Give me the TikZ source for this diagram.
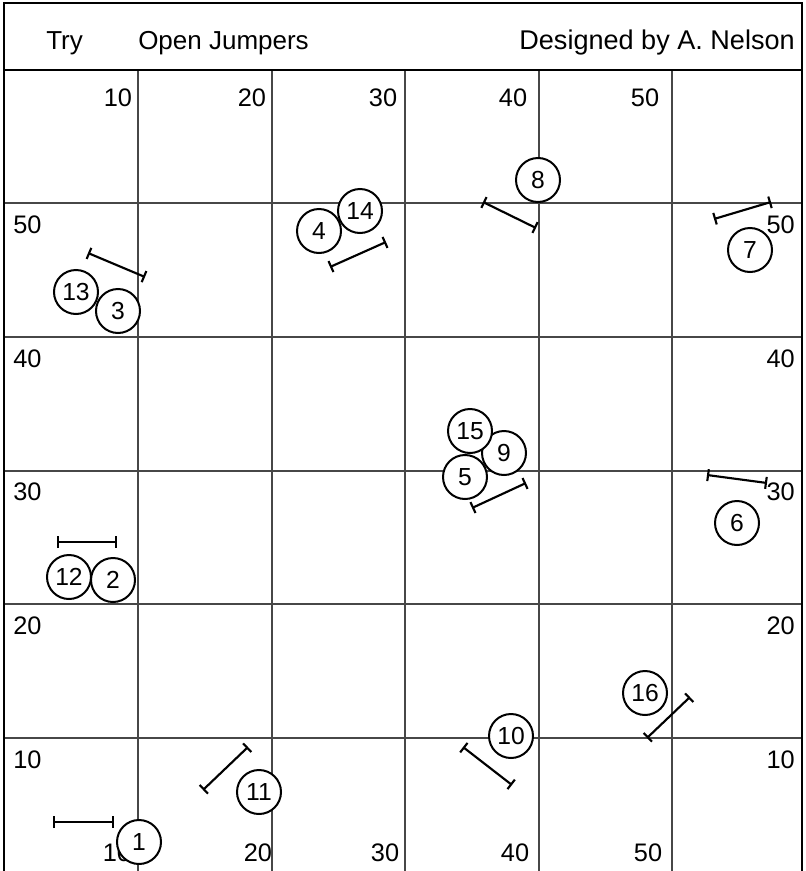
\documentclass[tikz,border=0pt]{standalone}
\usepackage{fontspec}
\setmainfont{Liberation Sans}
\usetikzlibrary{arrows.meta}
\begin{document}
\begin{tikzpicture}[x=0.75pt,y=-0.75pt,
  gridline/.style={draw=black!72, line width=1.1pt},
  frameline/.style={draw=black, line width=2.2pt},
  lab/.style={font=\fontsize{19}{22}\selectfont, inner sep=0pt},
  head/.style={font=\fontsize{19.5}{23}\selectfont, inner sep=0pt, anchor=base},
  player/.style={circle, draw=black, fill=white, line width=1.5pt, minimum size=33pt, inner sep=0pt, font=\fontsize{18.5}{20}\selectfont},
  jumper/.style={line width=1.6pt, {Bar[width=9pt,line width=1.6pt]}-{Bar[width=9pt,line width=1.6pt]}}
]
\useasboundingbox (0,0) rectangle (806,871);
% grid
\foreach \gx in {138,272,405,539,672} \draw[gridline] (\gx,70) -- (\gx,871);
\foreach \gy in {203,337,471,604,738} \draw[gridline] (4,\gy) -- (802,\gy);
% frame
\draw[frameline] (4,871) -- (4,3) -- (802,3) -- (802,871);
\draw[frameline] (4,70) -- (802,70);
% header
\node[head, anchor=base west] (try) at (46,49) {Try};
\node[head, anchor=base west] (title) at (138,49) {Open Jumpers};
\node[head, anchor=base east, font=\fontsize{20.3}{23}\selectfont] (design) at (795,49) {Designed by A. Nelson};
% top numbers
\node[lab] (t10) at (118,98) {10};
\node[lab] (t20) at (252,98) {20};
\node[lab] (t30) at (383,98) {30};
\node[lab] (t40) at (513,98) {40};
\node[lab] (t50) at (645,98) {50};
% bottom numbers
\node[lab] (b10) at (117,853) {10};
\node[lab] (b20) at (258,853) {20};
\node[lab] (b30) at (385,853) {30};
\node[lab] (b40) at (515,853) {40};
\node[lab] (b50) at (648,853) {50};
% left numbers
\node[lab, anchor=west] (l50) at (13,225) {50};
\node[lab, anchor=west] (l40) at (13,359) {40};
\node[lab, anchor=west] (l30) at (13,492) {30};
\node[lab, anchor=west] (l20) at (13,626) {20};
\node[lab, anchor=west] (l10) at (13,760) {10};
% right numbers
\node[lab, anchor=east] (r50) at (795,225) {50};
\node[lab, anchor=east] (r40) at (795,359) {40};
\node[lab, anchor=east] (r30) at (795,492) {30};
\node[lab, anchor=east] (r20) at (795,626) {20};
\node[lab, anchor=east] (r10) at (795,760) {10};
% jumpers
\draw[jumper] (88,253) -- (145,277);
\draw[jumper] (330,267) -- (386,242);
\draw[jumper] (483,202) -- (536,228);
\draw[jumper] (714,219) -- (771,202);
\draw[jumper] (472,508) -- (526,483);
\draw[jumper] (707,475) -- (767,483);
\draw[jumper] (57,542) -- (117,542);
\draw[jumper] (647,738) -- (690,697);
\draw[jumper] (203,790) -- (248,747);
\draw[jumper] (463,747) -- (512,785);
\draw[jumper] (53,822) -- (114,822);
% players
\node[player] (p8) at (538,180) {8};
\node[player] (p4) at (319,231) {4};
\node[player] (p14) at (360,211) {14};
\node[player] (p13) at (76,292) {13};
\node[player] (p3) at (118,311) {3};
\node[player] (p7) at (750,250) {7};
\node[player] (p9) at (504,453) {9};
\node[player] (p15) at (470,431) {15};
\node[player] (p5) at (465,477) {5};
\node[player] (p6) at (737,523) {6};
\node[player] (p12) at (69,577) {12};
\node[player] (p2) at (113,580) {2};
\node[player] (p16) at (645,693) {16};
\node[player] (p10) at (511,736) {10};
\node[player] (p11) at (259,792) {11};
\node[player] (p1) at (139,842) {1};
\end{tikzpicture}
\end{document}
